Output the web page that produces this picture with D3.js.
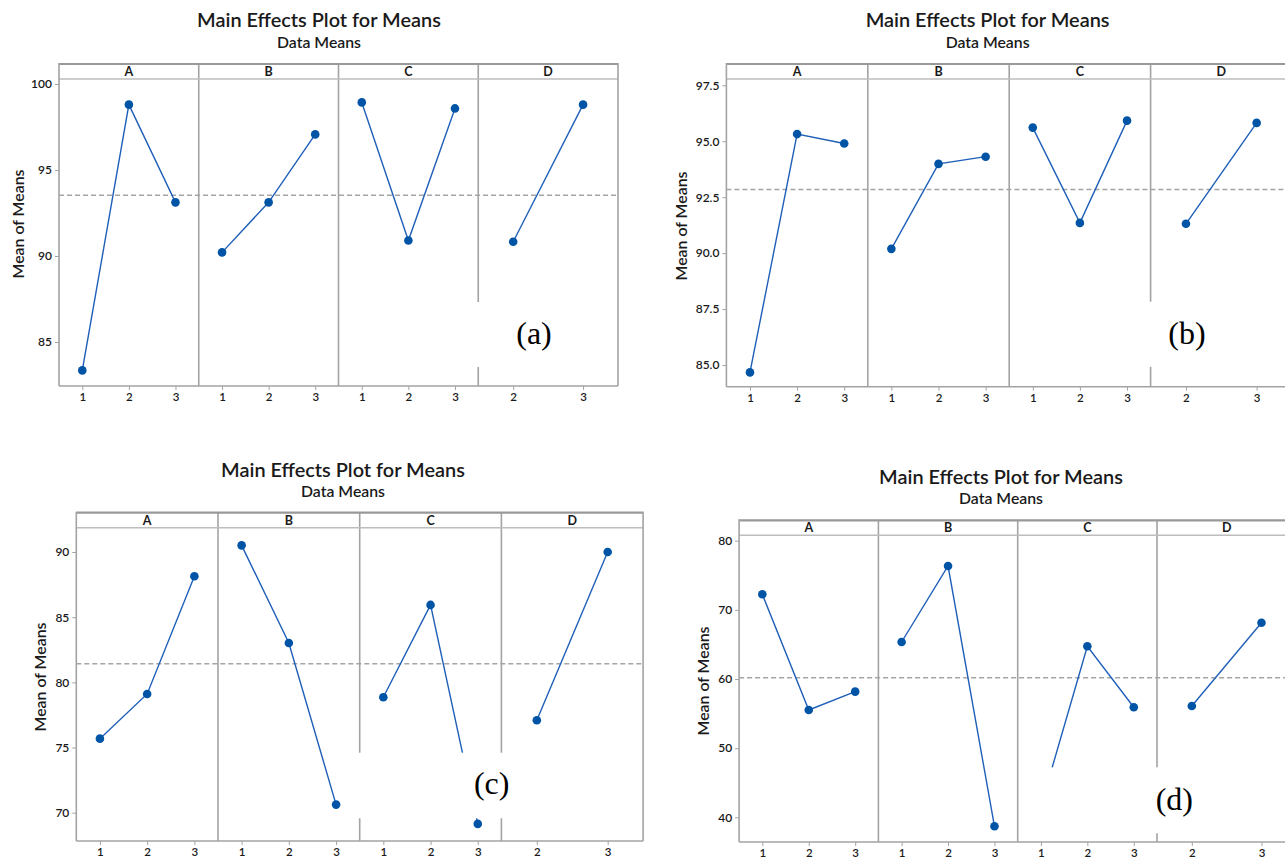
<!DOCTYPE html>
<html>
<head>
<meta charset="utf-8">
<script src="https://cdn.jsdelivr.net/npm/d3@7"></script>
<style>
  html, body { margin: 0; padding: 0; background: #fff; }
  svg { display: block; }
</style>
</head>
<body>
<svg id="chart" width="1285" height="860"></svg>
<script>
// ---------------- DATA ----------------
const titleText = "Main Effects Plot for Means";
const subtitleText = "Data Means";
const yAxisTitle = "Mean of Means";
const factorNames = ["A", "B", "C", "D"];
const factorLevels = [["1", "2", "3"], ["1", "2", "3"], ["1", "2", "3"], ["2", "3"]];
const panelLabels = ["(a)", "(b)", "(c)", "(d)"];

// means per factor (A, B, C, D) for each sub-plot
const meansA = [[83.35, 98.80, 93.12], [90.21, 93.12, 97.07], [98.93, 90.90, 98.58], [90.83, 98.80]];
const meansB = [[84.67, 95.32, 94.90], [90.19, 93.99, 94.31], [95.61, 91.35, 95.92], [91.31, 95.82]];
const meansC = [[75.68, 79.11, 88.14], [90.51, 83.02, 70.62], [78.86, 85.94, 69.14], [77.09, 90.00]];
const meansD = [[72.25, 55.52, 58.17], [65.35, 76.34, 38.70], [41.6, 64.73, 55.91], [56.10, 68.14]];
const grandMeans = [93.53, 92.84, 81.43, 60.19];

const yTicksA = [85, 90, 95, 100];
const yTicksB = [85.0, 87.5, 90.0, 92.5, 95.0, 97.5];
const yTicksC = [70, 75, 80, 85, 90];
const yTicksD = [40, 50, 60, 70, 80];

// ---------------- LAYOUT ----------------
const panels = [
  { means: meansA, ticks: yTicksA, fmt: "d", grand: grandMeans[0], label: panelLabels[0],
    left: 59, panelW: 139.75, top: 64, strip: 79, bottom: 386,
    yMap: [342, 84],
    titleX: 319, titleY: 20, subY: 43, yTitleX: 18, yTitleY: 224,
    box: [470, 302, 135, 65], labelX: 534, labelY: 344 },
  { means: meansB, ticks: yTicksB, fmt: ".1f", grand: grandMeans[1], label: panelLabels[1],
    left: 726.4, panelW: 141.4, top: 64, strip: 79, bottom: 386.7,
    yMap: [365, 85.3],
    titleX: 987.6, titleY: 20, subY: 43, yTitleX: 680.5, yTitleY: 226,
    box: [1140, 301.7, 110, 65], labelX: 1187, labelY: 344 },
  { means: meansC, ticks: yTicksC, fmt: "d", grand: grandMeans[2], label: panelLabels[2],
    left: 76.3, panelW: 141.7, top: 512.7, strip: 527.7, bottom: 841,
    yMap: [812.7, 552],
    titleX: 343, titleY: 470, subY: 492, yTitleX: 39.6, yTitleY: 677,
    box: [345, 752.7, 215, 65.6], labelX: 491.7, labelY: 794 },
  { means: meansD, ticks: yTicksD, fmt: "d", grand: grandMeans[3], label: panelLabels[3],
    left: 739.1, panelW: 139.3, top: 520.3, strip: 535.3, bottom: 842,
    yMap: [817.3, 540.7],
    titleX: 1001, titleY: 477, subY: 499, yTitleX: 702.5, yTitleY: 681,
    box: [1022, 767.3, 218, 66], labelX: 1174.3, labelY: 809.5 }
];

const FONT = "'Segoe UI', Lato, 'Noto Sans', sans-serif";
const frameColor = "#a3a3a3";
const lineColor = "#1f5fb8";
const dotColor = "#0054a6";
const textColor = "#1a1a1a";

const svg = d3.select("#chart");

function fitText(sel, targetW) {
  const node = sel.node();
  const fs = parseFloat(sel.attr("font-size"));
  const w = node.getComputedTextLength();
  if (w > 0) sel.attr("font-size", (fs * targetW / w).toFixed(2));
}

panels.forEach(p => {
  const g = svg.append("g");
  const right = p.left + 4 * p.panelW;
  const y = d3.scaleLinear()
    .domain([p.ticks[0], p.ticks[p.ticks.length - 1]])
    .range(p.yMap);

  // title & subtitle
  const t = g.append("text").attr("x", p.titleX).attr("y", p.titleY + 7)
    .attr("text-anchor", "middle").attr("font-family", FONT)
    .attr("font-size", 19).attr("font-weight", 600).attr("fill", textColor)
    .text(titleText);
  fitText(t, 244);
  const s = g.append("text").attr("x", p.titleX).attr("y", p.subY + 5)
    .attr("text-anchor", "middle").attr("font-family", FONT)
    .attr("font-size", 14).attr("font-weight", 600).attr("fill", textColor)
    .text(subtitleText);
  fitText(s, 84);

  // y axis title
  const yt = g.append("text")
    .attr("transform", `translate(${p.yTitleX + 6},${p.yTitleY}) rotate(-90)`)
    .attr("text-anchor", "middle").attr("font-family", FONT)
    .attr("font-size", 16).attr("font-weight", 600).attr("fill", textColor)
    .text(yAxisTitle);
  fitText(yt, 109);

  // reference (grand mean) dashed line
  g.append("line")
    .attr("x1", p.left).attr("x2", right)
    .attr("y1", y(p.grand)).attr("y2", y(p.grand))
    .attr("stroke", "#a5a5a5").attr("stroke-width", 1.5)
    .attr("stroke-dasharray", "5,3");

  // y axis
  const yAxis = g.append("g").attr("transform", `translate(${p.left},0)`)
    .call(d3.axisLeft(y).tickValues(p.ticks).tickSize(4).tickPadding(3)
      .tickFormat(d3.format(p.fmt)));
  yAxis.select(".domain").remove();
  yAxis.selectAll(".tick line").attr("stroke", frameColor);
  yAxis.selectAll(".tick text").attr("font-family", FONT).attr("font-size", 12)
    .attr("font-weight", 600).attr("fill", textColor);

  factorNames.forEach((f, i) => {
    const x0 = p.left + i * p.panelW;
    const x1 = x0 + p.panelW;
    const x = d3.scalePoint().domain(factorLevels[i]).range([x0, x1]).padding(0.5);

    // strip label
    g.append("text").attr("x", (x0 + x1) / 2).attr("y", (p.top + p.strip) / 2 + 4.5)
      .attr("text-anchor", "middle").attr("font-family", FONT)
      .attr("font-size", 12.5).attr("font-weight", 700).attr("fill", textColor)
      .text(f);

    // x axis
    const xAxis = g.append("g").attr("transform", `translate(0,${p.bottom})`)
      .call(d3.axisBottom(x).tickSize(4).tickPadding(3));
    xAxis.select(".domain").remove();
    xAxis.selectAll(".tick line").attr("stroke", frameColor);
    xAxis.selectAll(".tick text").attr("font-family", FONT).attr("font-size", 11.5)
      .attr("font-weight", 600).attr("fill", textColor);

    // line + points
    const pts = factorLevels[i].map((lv, k) => ({ lv, v: p.means[i][k] }));
    g.append("path").datum(pts)
      .attr("fill", "none").attr("stroke", lineColor).attr("stroke-width", 1.4)
      .attr("d", d3.line().x(d => x(d.lv)).y(d => y(d.v)));
    g.selectAll(null).data(pts).enter().append("circle")
      .attr("cx", d => x(d.lv)).attr("cy", d => y(d.v)).attr("r", 4.3)
      .attr("fill", dotColor);

    // panel divider
    if (i > 0) {
      g.append("line").attr("x1", x0).attr("x2", x0)
        .attr("y1", p.top).attr("y2", p.bottom)
        .attr("stroke", frameColor).attr("stroke-width", 1.6);
    }
  });

  // frame
  g.append("line").attr("x1", p.left).attr("x2", right).attr("y1", p.top).attr("y2", p.top)
    .attr("stroke", "#999").attr("stroke-width", 2.2);
  g.append("line").attr("x1", p.left).attr("x2", right).attr("y1", p.strip).attr("y2", p.strip)
    .attr("stroke", "#bdbdbd").attr("stroke-width", 1.6);
  g.append("line").attr("x1", p.left).attr("x2", right).attr("y1", p.bottom).attr("y2", p.bottom)
    .attr("stroke", frameColor).attr("stroke-width", 1.6);
  g.append("line").attr("x1", p.left).attr("x2", p.left).attr("y1", p.top - 1).attr("y2", p.bottom)
    .attr("stroke", frameColor).attr("stroke-width", 1.6);
  g.append("line").attr("x1", right).attr("x2", right).attr("y1", p.top - 1).attr("y2", p.bottom)
    .attr("stroke", frameColor).attr("stroke-width", 1.6);

  // white label box
  g.append("rect").attr("x", p.box[0]).attr("y", p.box[1])
    .attr("width", p.box[2]).attr("height", p.box[3]).attr("fill", "#fff");
  g.append("text").attr("x", p.labelX).attr("y", p.labelY)
    .attr("text-anchor", "middle")
    .attr("font-family", "'Times New Roman', 'Liberation Serif', 'DejaVu Serif', serif")
    .attr("font-size", 32).attr("fill", "#000")
    .text(p.label);
});
</script>
</body>
</html>
